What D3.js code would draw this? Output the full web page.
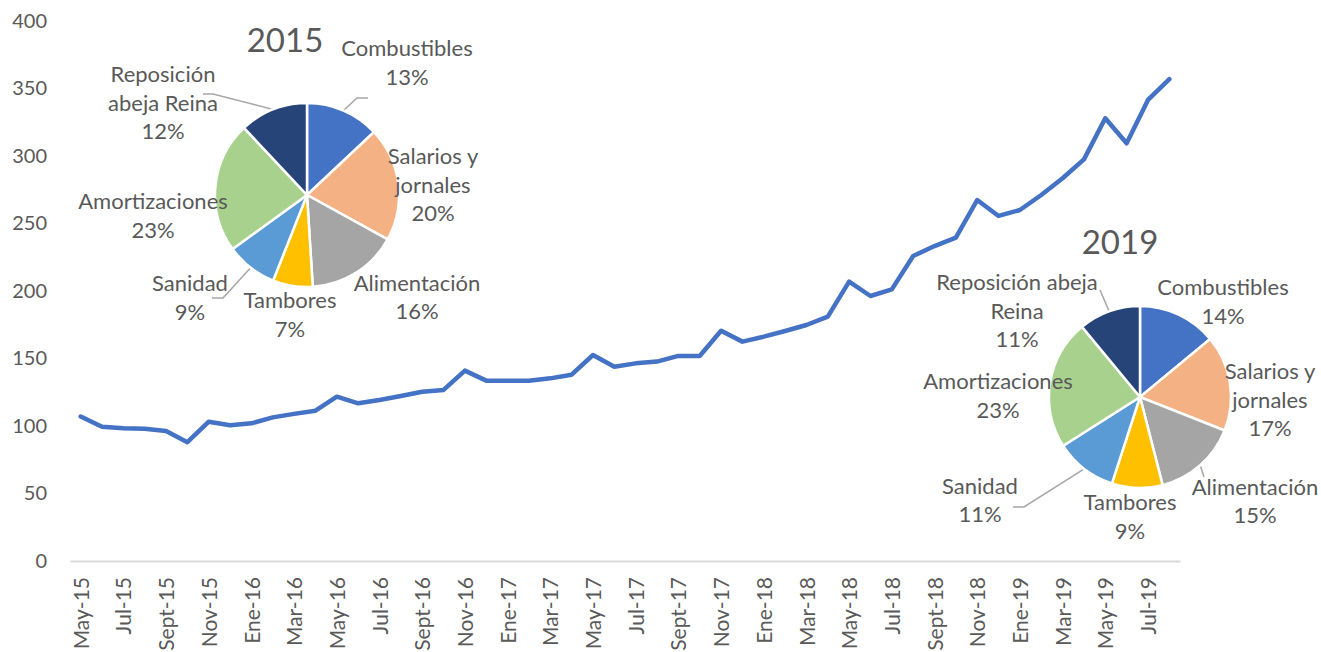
<!DOCTYPE html>
<meta charset="utf-8">
<head>
  <style>
    body { margin: 0; background: #fff; }
    text { font-family: Lato, "Open Sans", sans-serif; fill: #595959; }
    .axis text { font-size: 20px; }
    .axis.x text { font-size: 21px; }
    .plabel { font-size: 22px; }
    .ptitle { font-size: 33px; }
  </style>
  <title>Indice de costos</title>
</head>
<script src="https://cdn.jsdelivr.net/npm/d3@7"></script>

<svg width="1321" height="652" id="chart"></svg>

<script>
  // monthly categories (Spanish abbreviations as in the source)
  const months = [
    'May-15','Jun-15','Jul-15','Ago-15','Sept-15','Oct-15','Nov-15','Dic-15',
    'Ene-16','Feb-16','Mar-16','Abr-16','May-16','Jun-16','Jul-16','Ago-16','Sept-16','Oct-16','Nov-16','Dic-16',
    'Ene-17','Feb-17','Mar-17','Abr-17','May-17','Jun-17','Jul-17','Ago-17','Sept-17','Oct-17','Nov-17','Dic-17',
    'Ene-18','Feb-18','Mar-18','Abr-18','May-18','Jun-18','Jul-18','Ago-18','Sept-18','Oct-18','Nov-18','Dic-18',
    'Ene-19','Feb-19','Mar-19','Abr-19','May-19','Jun-19','Jul-19','Ago-19'
  ];
  const indexValues = [
    107, 99.5, 98.3, 98, 96.3, 88, 103.2, 100.5,
    102, 106.4, 109, 111.3, 121.7, 116.8, 119.3, 122.2, 125.4, 126.7, 141, 133.6,
    133.6, 133.6, 135.3, 138, 152.6, 143.9, 146.4, 147.7, 151.9, 151.9, 170.6, 162.5,
    166.2, 170.4, 174.8, 181, 206.9, 196.3, 201.2, 225.9, 233.3, 239.5, 267.4, 255.6,
    260, 271.1, 283.5, 297.5, 327.9, 309.4, 341.5, 357
  ];
  const yTicks = [0, 50, 100, 150, 200, 250, 300, 350, 400];

  // pie data
  const costItems = ['Combustibles', 'Salarios y jornales', 'Alimentación', 'Tambores',
                     'Sanidad', 'Amortizaciones', 'Reposición abeja Reina'];
  const share2015 = [13, 20, 16, 7, 9, 23, 12];
  const share2019 = [14, 17, 15, 9, 11, 23, 11];

  const sliceColors = ['#4472C4', '#F4B183', '#A5A5A5', '#FFC000', '#5B9BD5', '#A9D18E', '#264478'];

  const svg = d3.select('#chart');

  // ---- line chart ----
  const x = d3.scalePoint().domain(months).range([70, 1180]).padding(0.5);
  const y = d3.scaleLinear().domain([0, 400]).range([561, 21]);

  svg.append('g')
    .attr('class', 'axis')
    .attr('transform', 'translate(70,0)')
    .call(d3.axisLeft(y).tickValues(yTicks).tickSize(0).tickPadding(23))
    .call(g => g.select('.domain').remove());

  const xAxis = svg.append('g')
    .attr('class', 'axis x')
    .attr('transform', 'translate(0,561)')
    .call(d3.axisBottom(x).tickValues(months.filter((d, i) => i % 2 === 0)).tickSize(0).tickSizeOuter(0));
  xAxis.select('.domain').attr('stroke', '#D9D9D9').attr('stroke-width', 2);
  xAxis.selectAll('text')
    .attr('transform', 'rotate(-90)')
    .attr('text-anchor', 'end')
    .attr('x', -16)
    .attr('y', 0)
    .attr('dy', '0.36em');

  const line = d3.line()
    .x((d, i) => x(months[i]))
    .y(d => y(d));

  svg.append('path')
    .datum(indexValues)
    .attr('fill', 'none')
    .attr('stroke', '#4472C4')
    .attr('stroke-width', 4.5)
    .attr('stroke-linejoin', 'round')
    .attr('stroke-linecap', 'round')
    .attr('d', line);

  // ---- pies ----
  // label placement is manual in the source, so offsets are given relative to the pie centre
  const pies = [
    {
      title: '2015', values: share2015, cx: 307, cy: 195, r: 92, titleX: 285, titleY: 40,
      lines: [['Combustibles'], ['Salarios y', 'jornales'], ['Alimentación'], ['Tambores'],
              ['Sanidad'], ['Amortizaciones'], ['Reposición', 'abeja Reina']],
      offs: [[100, -132], [126, -10], [110, 102.5], [-17, 120], [-117, 103], [-154, 21], [-144, -92]],
      leaders: [[0, [[61, -97], [50, -97]]], [4, [[-95, 103], [-84, 103]]], [6, [[-104, -101], [-94, -101]]]]
    },
    {
      title: '2019', values: share2019, cx: 1140, cy: 397, r: 91, titleX: 1120, titleY: 242,
      lines: [['Combustibles'], ['Salarios y', 'jornales'], ['Alimentación'], ['Tambores'],
              ['Sanidad'], ['Amortizaciones'], ['Reposición abeja', 'Reina']],
      offs: [[83, -95], [130, 3], [115, 104.5], [-10, 120], [-160, 103.5], [-142, -1], [-123, -86]],
      leaders: [[2, [[64, 80]]], [4, [[-127, 110], [-116, 110]]], [6, [[-40, -107]]]]
    }
  ];

  const pie = d3.pie().sort(null).value(d => d);
  const lh = 28.5;

  pies.forEach(p => {
    const g = svg.append('g').attr('transform', `translate(${p.cx},${p.cy})`);
    const arcs = pie(p.values);
    const arc = d3.arc().innerRadius(0).outerRadius(p.r);

    // leader lines
    p.leaders.forEach(([i, pts]) => {
      const a = (arcs[i].startAngle + arcs[i].endAngle) / 2;
      const end = [Math.sin(a) * p.r, -Math.cos(a) * p.r];
      g.append('path')
        .attr('d', d3.line()(pts.concat([end])))
        .attr('fill', 'none')
        .attr('stroke', '#A6A6A6')
        .attr('stroke-width', 1.5);
    });

    g.selectAll('path.slice')
      .data(arcs)
      .enter()
        .append('path')
        .attr('class', 'slice')
        .attr('d', arc)
        .attr('fill', (d, i) => sliceColors[i])
        .attr('stroke', '#fff')
        .attr('stroke-width', 2.5);

    arcs.forEach((d, i) => {
      const rows = p.lines[i].concat([d.data + '%']);
      const [dx, dy] = p.offs[i];
      const t = g.append('text')
        .attr('class', 'plabel')
        .attr('text-anchor', 'middle');
      rows.forEach((s, k) => {
        t.append('tspan')
          .attr('x', dx)
          .attr('y', dy + (k - (rows.length - 1) / 2) * lh)
          .attr('dy', '0.35em')
          .text(s);
      });
    });

    svg.append('text')
      .attr('class', 'ptitle')
      .attr('x', p.titleX)
      .attr('y', p.titleY)
      .attr('dy', '0.35em')
      .attr('text-anchor', 'middle')
      .text(p.title);
  });
</script>
